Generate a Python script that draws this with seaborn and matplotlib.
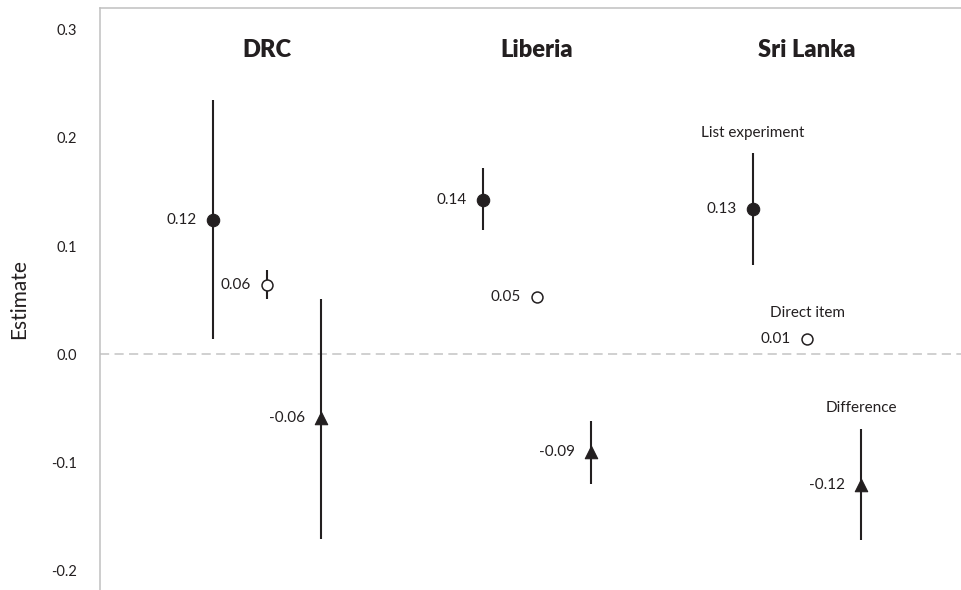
import matplotlib
matplotlib.use("Agg")
import matplotlib.pyplot as plt
import seaborn as sns
import pandas as pd

# Countries and the three measures estimated in each
countries = ["DRC", "Liberia", "Sri Lanka"]
measures = ["List experiment", "Direct item", "Difference"]

# Point estimates per country (list experiment, direct item, difference)
est_drc = [0.124, 0.064, -0.059]
est_liberia = [0.143, 0.053, -0.090]
est_srilanka = [0.134, 0.014, -0.121]

# Lower and upper bounds of the 95% intervals
lo_drc = [0.014, 0.051, -0.171]
hi_drc = [0.235, 0.078, 0.051]
lo_liberia = [0.115, 0.050, -0.120]
hi_liberia = [0.172, 0.056, -0.062]
lo_srilanka = [0.083, 0.012, -0.172]
hi_srilanka = [0.186, 0.016, -0.069]

yticks = [-0.2, -0.1, 0.0, 0.1, 0.2, 0.3]
ytick_labels = ["-0.2", "-0.1", "0.0", "0.1", "0.2", "0.3"]

rows = []
for ci, (c, est, lo, hi) in enumerate(zip(
        countries,
        [est_drc, est_liberia, est_srilanka],
        [lo_drc, lo_liberia, lo_srilanka],
        [hi_drc, hi_liberia, hi_srilanka])):
    for mi, m in enumerate(measures):
        rows.append({"country": c, "measure": m, "x": ci + (mi - 1) * 0.2,
                     "est": est[mi], "lo": lo[mi], "hi": hi[mi]})
df = pd.DataFrame(rows)

sns.set_theme(style="white")
plt.rcParams["font.family"] = ["Lato", "DejaVu Sans"]
ink = "#231f20"

fig = plt.figure(figsize=(9.62, 5.90), dpi=100)
ax = fig.add_axes([100 / 962, 0.0, 1 - 100 / 962, 1 - 8 / 590])

# zero reference line
ax.axhline(0, color="#c4c4c4", lw=1.1, dashes=(6, 3.5), zorder=0)

# confidence intervals
ax.vlines(df["x"], df["lo"], df["hi"], color=ink, lw=1.5, zorder=2)

styles = {
    "List experiment": dict(marker="o", s=80, color=ink, edgecolor=ink, linewidth=0.8),
    "Direct item": dict(marker="o", s=62, color="white", edgecolor=ink, linewidth=1.1),
    "Difference": dict(marker="^", s=80, color=ink, edgecolor=ink, linewidth=0.8),
}
for m in measures:
    sub = df[df["measure"] == m]
    sns.scatterplot(data=sub, x="x", y="est", ax=ax, zorder=3, legend=False, **styles[m])

# value labels to the left of each point
for _, r in df.iterrows():
    ax.annotate(f"{r['est']:.2f}", (r["x"], r["est"]), xytext=(-16, 0),
                textcoords="offset pixels", ha="right", va="center",
                fontsize=11, color=ink)

# country headings
for ci, c in enumerate(countries):
    ax.text(ci, 0.281, c, ha="center", va="center", fontsize=17,
            fontweight="heavy", color=ink)

# measure names above the Sri Lanka points
sl = df[df["country"] == "Sri Lanka"].set_index("measure")
ax.annotate("List experiment", (sl.loc["List experiment", "x"], sl.loc["List experiment", "hi"]),
            xytext=(0, 20), textcoords="offset pixels", ha="center", va="center",
            fontsize=11, color=ink)
ax.annotate("Direct item", (sl.loc["Direct item", "x"], sl.loc["Direct item", "est"]),
            xytext=(0, 26), textcoords="offset pixels", ha="center", va="center",
            fontsize=11, color=ink)
ax.annotate("Difference", (sl.loc["Difference", "x"], sl.loc["Difference", "hi"]),
            xytext=(0, 21), textcoords="offset pixels", ha="center", va="center",
            fontsize=11, color=ink)

ax.set_xlim(-0.6185, 2.574)
ax.set_ylim(-0.2178, 0.3201)
ax.set_xticks([])
ax.set_yticks(yticks)
ax.set_yticklabels(ytick_labels)
ax.tick_params(axis="y", length=0, pad=16.5, labelsize=10.5, labelcolor=ink)
ax.set_xlabel("")
ax.set_ylabel("Estimate", fontsize=15, color=ink)
ax.yaxis.set_label_coords(-0.082, 0.5)

for side in ["right", "bottom"]:
    ax.spines[side].set_visible(False)
for side in ["left", "top"]:
    ax.spines[side].set_visible(True)
    ax.spines[side].set_color("#c0c0c0")
    ax.spines[side].set_linewidth(1.1)

fig.savefig("out.png", dpi=100)
